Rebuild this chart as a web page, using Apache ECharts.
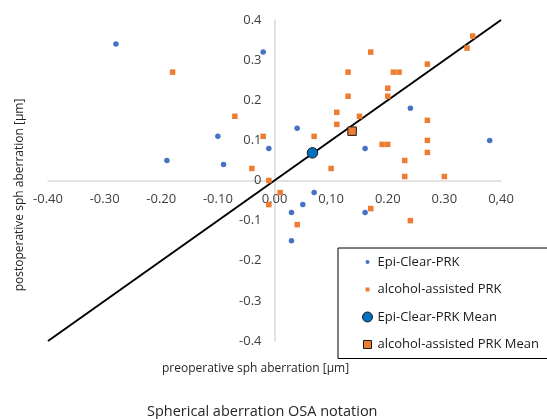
<!DOCTYPE html>
<html>
<head>
<meta charset="utf-8">
<script src="https://cdn.jsdelivr.net/npm/echarts@6/dist/echarts.min.js"></script>
<style>html,body{margin:0;padding:0;background:#fff}#c{width:547px;height:419px}</style>
</head>
<body>
<div id="c"></div>
<script>
// ---- data ----
var epiClearX = [-0.28, -0.02, -0.10, -0.01, -0.19, -0.09, 0.04, 0.24, 0.16, 0.38, 0.07, 0.05, 0.03, 0.03, 0.16];
var epiClearY = [0.34, 0.32, 0.11, 0.08, 0.05, 0.04, 0.13, 0.18, 0.08, 0.10, -0.03, -0.06, -0.08, -0.15, -0.08];
var alcoholX = [-0.18, -0.07, -0.02, -0.04, -0.01, 0.01, -0.01, 0.35, 0.34, 0.17, 0.27, 0.13, 0.21, 0.22, 0.20, 0.13, 0.20, 0.11, 0.15, 0.11, 0.27, 0.07, 0.27, 0.19, 0.20, 0.27, 0.23, 0.10, 0.23, 0.30, 0.17, 0.04, 0.24];
var alcoholY = [0.27, 0.16, 0.11, 0.03, 0.00, -0.03, -0.06, 0.36, 0.33, 0.32, 0.29, 0.27, 0.27, 0.27, 0.23, 0.21, 0.21, 0.17, 0.16, 0.14, 0.15, 0.11, 0.10, 0.09, 0.09, 0.07, 0.05, 0.03, 0.01, 0.01, -0.07, -0.11, -0.10];
var epiClearMean = [0.067, 0.069];
var alcoholMean = [0.137, 0.123];
var identityLine = [[-0.4, -0.4], [0.4, 0.4]];
var xTickLabels = ['-0.40', '-0.30', '-0.20', '-0.10', '0.00', '0,10', '0.20', '0.30', '0,40'];
var yTickLabels = ['-0.4', '-0.3', '-0.2', '-0.1', '0', '0.1', '0.2', '0.3', '0.4'];
var seriesNames = ['Epi-Clear-PRK', 'alcohol-assisted PRK', 'Epi-Clear-PRK Mean', 'alcohol-assisted PRK Mean'];
var xTitle = 'preoperative sph aberration [µm]';
var yTitle = 'postoperative sph aberration [µm]';
var chartTitle = 'Spherical aberration OSA notation';

function pairs(xs, ys) { return xs.map(function (x, i) { return [x, ys[i]]; }); }
function tickIndex(v) { return Math.round((v + 0.4) / 0.1); }

var FONT = 'Open Sans';
var W = 547, H = 419, GRID_L = 48, GRID_R = 46, GRID_T = 20, GRID_B = 78;
var X_MIN = -0.4, X_MAX = 0.4, Y_MIN = -0.4, Y_MAX = 0.4;
// axes drawn through the origin (shift from the grid's edges)
var yAxisShift = -((0 - X_MIN) / (X_MAX - X_MIN)) * (W - GRID_L - GRID_R);
var xAxisShift = -((0 - Y_MIN) / (Y_MAX - Y_MIN)) * (H - GRID_T - GRID_B);

var chart = echarts.init(document.getElementById('c'), null, { renderer: 'canvas' });
chart.setOption({
  animation: false,
  backgroundColor: '#fff',
  textStyle: { fontFamily: FONT },
  title: {
    text: chartTitle,
    left: 147, top: 404, padding: 0,
    textStyle: { fontFamily: FONT, fontSize: 14.5, fontWeight: 'normal', color: '#262626' }
  },
  grid: { left: GRID_L, right: GRID_R, top: GRID_T, bottom: GRID_B, containLabel: false },
  xAxis: {
    type: 'value', min: X_MIN, max: X_MAX, interval: 0.1,
    position: 'bottom', offset: xAxisShift,
    axisLine: { onZero: false, lineStyle: { color: '#d9d9d9', width: 1.5 } },
    axisTick: { show: false },
    splitLine: { show: false },
    axisLabel: {
      margin: 12, fontSize: 13, color: '#404040', fontFamily: FONT,
      formatter: function (v) { return xTickLabels[tickIndex(v)]; }
    }
  },
  yAxis: {
    type: 'value', min: Y_MIN, max: Y_MAX, interval: 0.1,
    position: 'left', offset: yAxisShift,
    axisLine: { onZero: false, lineStyle: { color: '#d9d9d9', width: 1.5 } },
    axisTick: { show: false },
    splitLine: { show: false },
    axisLabel: {
      margin: 13, fontSize: 13, color: '#404040', fontFamily: FONT,
      formatter: function (v) { return yTickLabels[tickIndex(v)]; }
    }
  },
  legend: {
    orient: 'vertical', left: 338, top: 248,
    padding: [6, 10, 6, 24],
    itemWidth: 10, itemHeight: 10, itemGap: 11.5,
    borderColor: '#000', borderWidth: 1, borderRadius: 0,
    textStyle: { fontFamily: FONT, fontSize: 13, color: '#1a1a1a', lineHeight: 16 },
    data: [
      { name: seriesNames[0], icon: 'path://M0,0M10,10M3,5a2,2 0 1,0 4,0a2,2 0 1,0 -4,0z', itemStyle: { color: '#4472C4' } },
      { name: seriesNames[1], icon: 'path://M0,0M10,10M3,3h4v4h-4z', itemStyle: { color: '#ED7D31' } },
      { name: seriesNames[2], icon: 'circle', itemStyle: { color: '#0070C0', borderColor: '#1a1a1a', borderWidth: 1 } },
      { name: seriesNames[3], icon: 'path://M0,0M10,10M1,1h8v8h-8z', itemStyle: { color: '#ED7D31', borderColor: '#1a1a1a', borderWidth: 1 } }
    ]
  },
  series: [
    {
      type: 'line', data: identityLine, symbol: 'none', silent: true,
      lineStyle: { color: '#000', width: 2 }, z: 1
    },
    {
      name: seriesNames[0], type: 'scatter', data: pairs(epiClearX, epiClearY),
      symbol: 'circle', symbolSize: 5.5, itemStyle: { color: '#4472C4', opacity: 1 }, z: 2
    },
    {
      name: seriesNames[1], type: 'scatter', data: pairs(alcoholX, alcoholY),
      symbol: 'rect', symbolSize: 5.5, itemStyle: { color: '#ED7D31', opacity: 1 }, z: 2
    },
    {
      name: seriesNames[2], type: 'scatter', data: [epiClearMean],
      symbol: 'circle', symbolSize: 10.5, itemStyle: { color: '#0070C0', borderColor: '#1a1a1a', borderWidth: 1, opacity: 1 }, z: 3
    },
    {
      name: seriesNames[3], type: 'scatter', data: [alcoholMean],
      symbol: 'rect', symbolSize: 8.5, itemStyle: { color: '#ED7D31', borderColor: '#1a1a1a', borderWidth: 1, opacity: 1 }, z: 3
    }
  ],
  graphic: [
    {
      type: 'text', left: 162, top: 363,
      style: { text: xTitle, fontFamily: FONT, fontSize: 12, fill: '#262626' }
    },
    {
      type: 'text', x: 20, y: 195, rotation: Math.PI / 2,
      style: { text: yTitle, fontFamily: FONT, fontSize: 12, fill: '#262626', align: 'center', verticalAlign: 'middle' }
    }
  ]
});
</script>
</body>
</html>
